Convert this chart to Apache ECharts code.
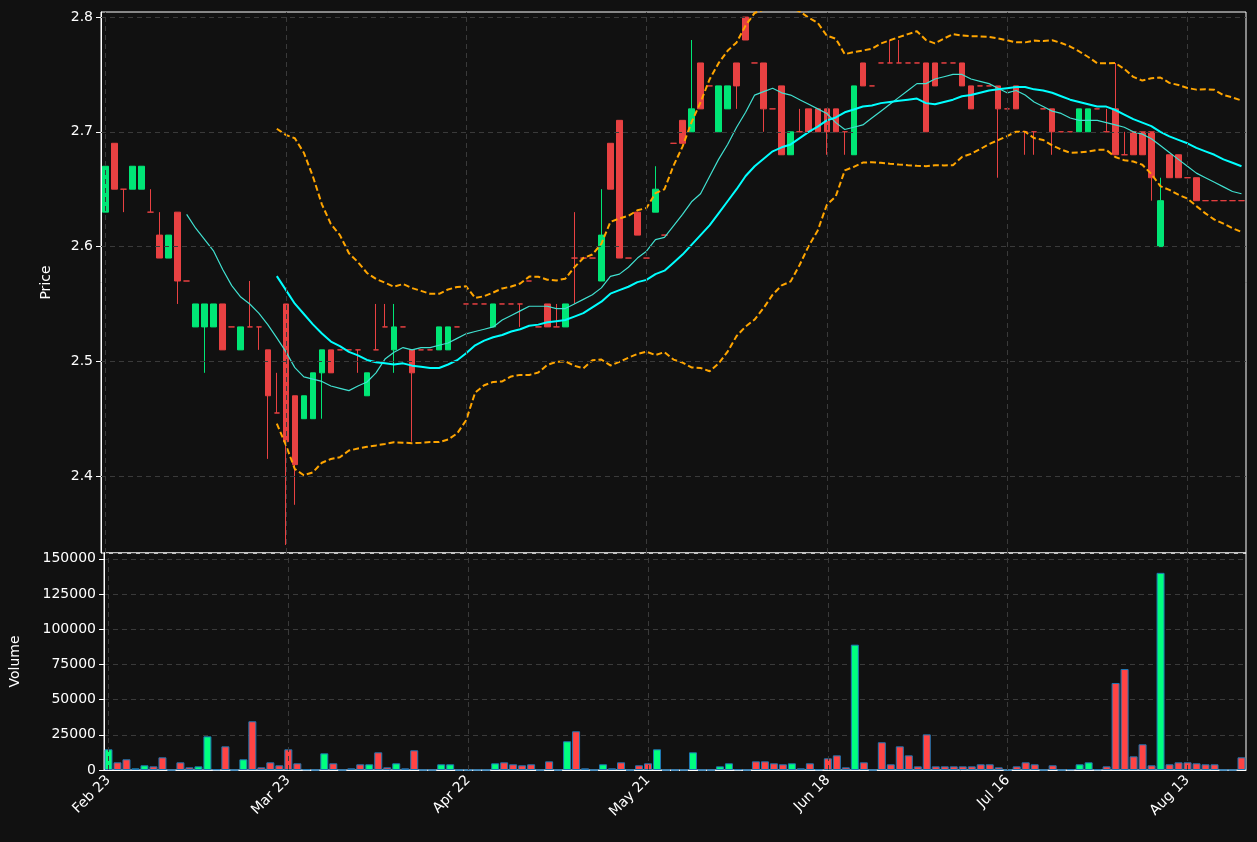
<!DOCTYPE html>
<html><head><meta charset="utf-8">
<script src="https://cdn.jsdelivr.net/npm/echarts@6/dist/echarts.min.js"></script>
<style>html,body{margin:0;padding:0;background:#111111;}#c{width:1257px;height:842px;}</style>
</head><body><div id="c"></div>
<script>
// [open, close, low, high]
const ohlc = [
[2.63,2.67,2.63,2.67],[2.69,2.65,2.65,2.69],[2.65,2.65,2.63,2.65],[2.65,2.67,2.65,2.67],[2.65,2.67,2.65,2.67],
[2.63,2.63,2.63,2.65],[2.61,2.59,2.59,2.63],[2.59,2.61,2.59,2.61],[2.63,2.57,2.55,2.63],[2.57,2.57,2.57,2.57],
[2.53,2.55,2.53,2.55],[2.53,2.55,2.49,2.55],[2.53,2.55,2.53,2.55],[2.55,2.51,2.51,2.55],[2.53,2.53,2.53,2.53],
[2.51,2.53,2.51,2.53],[2.53,2.53,2.53,2.57],[2.53,2.53,2.51,2.53],[2.51,2.47,2.415,2.51],[2.455,2.455,2.455,2.49],
[2.55,2.43,2.34,2.55],[2.47,2.41,2.375,2.47],[2.45,2.47,2.45,2.47],[2.45,2.49,2.45,2.49],[2.49,2.51,2.45,2.51],
[2.51,2.49,2.49,2.51],[2.51,2.51,2.51,2.51],[2.51,2.51,2.51,2.51],[2.51,2.51,2.49,2.51],[2.47,2.49,2.47,2.49],
[2.51,2.51,2.51,2.55],[2.53,2.53,2.53,2.55],[2.51,2.53,2.49,2.55],[2.53,2.53,2.53,2.53],[2.51,2.49,2.43,2.51],
[2.51,2.51,2.51,2.51],[2.51,2.51,2.51,2.51],[2.51,2.53,2.51,2.53],[2.51,2.53,2.51,2.53],[2.53,2.53,2.53,2.53],
[2.55,2.55,2.55,2.55],[2.55,2.55,2.55,2.55],[2.55,2.55,2.55,2.55],[2.53,2.55,2.53,2.55],[2.55,2.55,2.55,2.55],
[2.55,2.55,2.55,2.55],[2.55,2.55,2.53,2.55],[2.57,2.57,2.57,2.57],[2.53,2.53,2.53,2.53],[2.55,2.53,2.53,2.55],
[2.53,2.53,2.53,2.55],[2.53,2.55,2.53,2.55],[2.59,2.59,2.55,2.63],[2.59,2.59,2.59,2.59],[2.59,2.59,2.59,2.59],
[2.57,2.61,2.57,2.65],[2.69,2.65,2.65,2.69],[2.71,2.59,2.59,2.71],[2.59,2.59,2.59,2.59],[2.63,2.61,2.61,2.63],
[2.59,2.59,2.59,2.59],[2.63,2.65,2.63,2.67],[2.61,2.61,2.61,2.61],[2.69,2.69,2.69,2.69],[2.71,2.69,2.69,2.71],
[2.70,2.72,2.70,2.78],[2.76,2.72,2.72,2.76],[2.74,2.74,2.74,2.74],[2.70,2.74,2.70,2.74],[2.72,2.74,2.72,2.74],
[2.76,2.74,2.72,2.76],[2.80,2.78,2.78,2.80],[2.76,2.76,2.76,2.76],[2.76,2.72,2.70,2.76],[2.72,2.72,2.72,2.72],
[2.74,2.68,2.68,2.74],[2.68,2.70,2.68,2.70],[2.70,2.70,2.70,2.72],[2.72,2.70,2.70,2.72],[2.72,2.70,2.70,2.72],
[2.72,2.70,2.68,2.72],[2.72,2.70,2.70,2.72],[2.70,2.70,2.68,2.70],[2.68,2.74,2.68,2.74],[2.76,2.74,2.74,2.76],
[2.74,2.74,2.74,2.74],[2.76,2.76,2.76,2.76],[2.76,2.76,2.76,2.78],[2.76,2.76,2.76,2.78],[2.76,2.76,2.76,2.76],
[2.76,2.76,2.76,2.76],[2.76,2.70,2.70,2.76],[2.76,2.74,2.74,2.76],[2.76,2.76,2.76,2.76],[2.76,2.76,2.76,2.76],
[2.76,2.74,2.74,2.76],[2.74,2.72,2.72,2.74],[2.74,2.74,2.74,2.74],[2.74,2.74,2.74,2.74],[2.74,2.72,2.66,2.74],
[2.72,2.72,2.72,2.72],[2.74,2.72,2.72,2.74],[2.70,2.70,2.68,2.70],[2.70,2.70,2.68,2.70],[2.72,2.72,2.72,2.72],
[2.72,2.70,2.68,2.72],[2.70,2.70,2.70,2.70],[2.70,2.70,2.70,2.70],[2.70,2.72,2.70,2.72],[2.70,2.72,2.70,2.72],
[2.72,2.72,2.72,2.72],[2.70,2.70,2.70,2.72],[2.72,2.68,2.68,2.76],[2.68,2.68,2.68,2.70],[2.70,2.68,2.68,2.70],
[2.70,2.68,2.68,2.70],[2.70,2.66,2.64,2.70],[2.60,2.64,2.60,2.66],[2.68,2.66,2.66,2.68],[2.68,2.66,2.66,2.68],
[2.66,2.66,2.66,2.66],[2.66,2.64,2.64,2.66],[2.64,2.64,2.64,2.64],[2.64,2.64,2.64,2.64],[2.64,2.64,2.64,2.64],
[2.64,2.64,2.64,2.64],[2.64,2.64,2.64,2.64]
];
const volume = [
14700,5450,7600,1200,3350,2600,9000,0,5450,1900,
2600,23900,500,16800,0,7600,34600,1900,5450,3350,
14700,4750,500,0,11850,4750,0,1200,4050,4050,
12550,1900,4750,1200,14000,0,0,4050,4050,0,
0,0,0,4750,5450,4050,3350,4050,0,6150,
0,20400,27500,1200,0,4050,1200,5450,0,3350,
4750,14700,0,0,0,12550,0,0,2600,4750,
500,0,6150,6150,4750,4050,4750,1200,4750,500,
8300,10400,1900,89000,5450,0,19700,4050,16800,10400,
2600,25300,2600,2600,2600,2600,2600,4050,4050,1900,
0,2600,5450,4050,0,3350,0,500,4050,5450,
500,2600,61800,71700,9700,18250,3350,140000,4050,5450,
5450,4750,4050,4050,0,0,9000
];
const priceTicks = [2.4, 2.5, 2.6, 2.7, 2.8];
const holidays = ['2021-04-02','2021-04-05','2021-05-03'];
const MONTHS = ['Jan','Feb','Mar','Apr','May','Jun','Jul','Aug','Sep','Oct','Nov','Dec'];

const dates = [];
(function(){
  let d = new Date(Date.UTC(2021,1,23));
  while (dates.length < ohlc.length) {
    const wd = d.getUTCDay();
    const iso = d.toISOString().slice(0,10);
    if (wd !== 0 && wd !== 6 && holidays.indexOf(iso) < 0)
      dates.push(MONTHS[d.getUTCMonth()] + ' ' + String(d.getUTCDate()).padStart(2,'0'));
    d = new Date(d.getTime() + 86400000);
  }
})();
const tickDates = dates.filter((_, i) => i % 20 === 0);

const RED = '#E84142', GREEN = '#00E676';
const closes = ohlc.map(r => r[1]);
function sma(n){ return closes.map((_, i) => { if (i < n-1) return null; let s=0; for (let k=i-n+1;k<=i;k++) s+=closes[k]; return s/n; }); }
function sd(n){ const m = sma(n); return closes.map((_, i) => { if (i < n-1) return null; let s=0; for (let k=i-n+1;k<=i;k++) s+=(closes[k]-m[i])**2; return Math.sqrt(s/n); }); }
const ma10 = sma(10), ma20 = sma(20), s20 = sd(20);
const upper = ma20.map((v,i)=> v==null?null:v+2*s20[i]);
const lower = ma20.map((v,i)=> v==null?null:v-2*s20[i]);

const candleData = ohlc.map(r => {
  const item = { value: [r[0], r[1], r[2], r[3]] };
  if (r[0] === r[1]) item.itemStyle = { color: RED, color0: RED, borderColor: RED, borderColor0: RED };
  return item;
});
const volData = volume.map((v,i) => ({ value: v, itemStyle: { color: ohlc[i][1] > ohlc[i][0] ? '#00FF7F' : '#FF4444' } }));

const gridLine = { color: '#3a3a3a', type: [5,4], width: 1 };
const txt = { color: '#ffffff', fontSize: 14, fontFamily: 'DejaVu Sans' };
const tickInt = (i) => i % 20 === 0;

const chart = echarts.init(document.getElementById('c'));
chart.setOption({
  backgroundColor: '#111111',
  animation: false,
  grid: [
    { left: 101, right: 11, top: 12, height: 541, show: true, borderColor: '#ffffff', borderWidth: 1, backgroundColor: 'transparent' },
    { left: 101, right: 11, top: 553, height: 217, show: true, borderColor: '#ffffff', borderWidth: 1, backgroundColor: 'transparent' }
  ],
  xAxis: [
    { type: 'category', gridIndex: 0, data: dates, boundaryGap: true, axisLine: { show: false }, axisTick: { show: false }, axisLabel: { show: false }, splitLine: { show: false } },
    { type: 'category', gridIndex: 1, data: dates, boundaryGap: true,
      axisLine: { lineStyle: { color: '#ffffff' } },
      axisTick: { alignWithLabel: true, interval: tickInt, length: 5, lineStyle: { color: '#ffffff' } },
      axisLabel: Object.assign({ interval: tickInt, rotate: 45, margin: 8 }, txt),
      splitLine: { show: false } }
  ],
  yAxis: [
    { type: 'value', gridIndex: 0, min: 2.333, max: 2.8044, name: 'Price', nameLocation: 'middle', nameGap: 48,
      nameTextStyle: txt,
      axisLine: { show: true, lineStyle: { color: '#ffffff' } },
      axisTick: { show: true, customValues: priceTicks, length: 5, lineStyle: { color: '#ffffff' } },
      axisLabel: Object.assign({ customValues: priceTicks, formatter: v => v.toFixed(1) }, txt),
      splitLine: { show: false } },
    { type: 'value', gridIndex: 1, min: 0, max: 154100, interval: 25000, name: 'Volume', nameLocation: 'middle', nameGap: 82,
      nameTextStyle: txt,
      axisLine: { show: true, lineStyle: { color: '#ffffff' } },
      axisTick: { show: true, length: 5, lineStyle: { color: '#ffffff' } },
      axisLabel: Object.assign({ showMaxLabel: false, formatter: v => String(v) }, txt),
      splitLine: { show: true, lineStyle: gridLine } }
  ],
  series: [
    { type: 'candlestick', xAxisIndex: 0, yAxisIndex: 0, data: candleData, barWidth: 6,
      itemStyle: { color: GREEN, color0: RED, borderColor: GREEN, borderColor0: RED, borderWidth: 1 },
      markLine: { silent: true, symbol: 'none', label: { show: false }, lineStyle: gridLine, animation: false,
        data: priceTicks.map(v => ({ yAxis: v })).concat(tickDates.map(d => ({ xAxis: d }))) } },
    { type: 'line', xAxisIndex: 0, yAxisIndex: 0, data: ma10, showSymbol: false, lineStyle: { color: '#40E0D0', width: 1.2 }, z: 3 },
    { type: 'line', xAxisIndex: 0, yAxisIndex: 0, data: ma20, showSymbol: false, lineStyle: { color: '#00FFFF', width: 2 }, z: 3 },
    { type: 'line', xAxisIndex: 0, yAxisIndex: 0, data: upper, showSymbol: false, lineStyle: { color: '#FFA500', width: 2, type: [6,3] }, z: 3 },
    { type: 'line', xAxisIndex: 0, yAxisIndex: 0, data: lower, showSymbol: false, lineStyle: { color: '#FFA500', width: 2, type: [6,3] }, z: 3 },
    { type: 'bar', xAxisIndex: 1, yAxisIndex: 1, data: volData, barWidth: 8,
      itemStyle: { borderColor: '#1f77b4', borderWidth: 1 },
      markLine: { silent: true, symbol: 'none', label: { show: false }, lineStyle: gridLine, animation: false,
        data: tickDates.map(d => ({ xAxis: d })) } }
  ]
});
</script></body></html>
